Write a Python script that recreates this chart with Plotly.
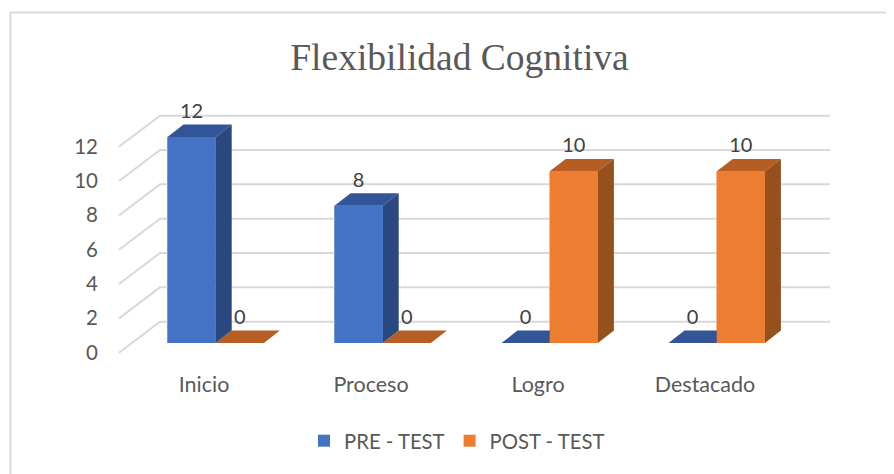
import plotly.graph_objects as go

categories = ["Inicio", "Proceso", "Logro", "Destacado"]
pre_test = [12, 8, 0, 0]
post_test = [0, 0, 10, 10]
y_ticks = [0, 2, 4, 6, 8, 10, 12]

PAGE = 8  # default page margin of the written html
W, H = 894 - PAGE, 474 - PAGE
PX_PER_X, X0_PX = 167.0, 215.7
PX_PER_Y, Y0_PX = 17.17, 343.0
BAR_W = 48.2 / PX_PER_X
DX, DY = 16 / PX_PER_X, 12.4 / PX_PER_Y
LABEL_UP = 24 / PX_PER_Y
BACK_L, BACK_R = (160 - X0_PX) / PX_PER_X, (830 - X0_PX) / PX_PER_X
FRONT_L = (119 - X0_PX) / PX_PER_X
BACK_DY, FRONT_DY = (343 - 321.7) / PX_PER_Y, (343 - 352.7) / PX_PER_Y

x_range = [-(X0_PX - PAGE) / PX_PER_X, (W - (X0_PX - PAGE)) / PX_PER_X]
y_range = [((Y0_PX - PAGE) - H) / PX_PER_Y, (Y0_PX - PAGE) / PX_PER_Y]
TICK_SHIFT = (Y0_PX - 352.5) / PX_PER_Y

BLUE, ORANGE = "#4472C4", "#ED7D31"
BLUE_T, ORANGE_T = "#325597", "#B55D22"
BLUE_S, ORANGE_S = "#2A4880", "#95501C"
GRID = "#D9D9D9"
positions = list(range(len(categories)))

fig = go.Figure()

# legend + real value marks
for name, vals, col, off in [("PRE - TEST", pre_test, BLUE, -BAR_W), ("POST - TEST", post_test, ORANGE, 0)]:
    fig.add_trace(go.Bar(x=[p + off for p in positions], y=vals, width=BAR_W, offset=0, name=name,
                         marker=dict(color=col, line=dict(width=0)), hoverinfo="skip"))

# wall gridlines and side diagonals
for t in y_ticks:
    fig.add_trace(go.Scatter(x=[FRONT_L, BACK_L, BACK_R], y=[t + FRONT_DY, t + BACK_DY, t + BACK_DY],
                             mode="lines", line=dict(color=GRID, width=2), showlegend=False, hoverinfo="skip"))

def poly(xs, ys, col):
    fig.add_trace(go.Scatter(x=xs, y=ys, mode="lines", fill="toself", fillcolor=col,
                             line=dict(width=0, color=col), showlegend=False, hoverinfo="skip"))

series = [(pre_test, -BAR_W, BLUE, BLUE_T, BLUE_S), (post_test, 0, ORANGE, ORANGE_T, ORANGE_S)]
for vals, off, _, top, _s in series:
    for p, v in zip(positions, vals):
        l = p + off
        r = l + BAR_W
        poly([l, r, r + DX, l + DX, l], [v, v, v + DY, v + DY, v], top)
for vals, off, _, _t, side in series:
    for p, v in zip(positions, vals):
        if v:
            r = p + off + BAR_W
            poly([r, r + DX, r + DX, r, r], [0, DY, v + DY, v, 0], side)
for vals, off, front, _t, _s in series:
    for p, v in zip(positions, vals):
        if v:
            l = p + off
            r = l + BAR_W
            poly([l, r, r, l, l], [0, 0, v, v, 0], front)

# value labels
for vals, off in [(pre_test, -BAR_W / 2), (post_test, BAR_W / 2)]:
    fig.add_trace(go.Scatter(x=[p + off for p in positions], y=[v + LABEL_UP for v in vals],
                             mode="text", text=[str(v) for v in vals], textposition="middle center",
                             textfont=dict(family="Lato", size=20, color="#404040"),
                             showlegend=False, hoverinfo="skip"))

# invisible carrier for the labelled value axis
fig.add_trace(go.Scatter(x=[None], y=[None], yaxis="y2", showlegend=False, hoverinfo="skip"))

fig.update_layout(
    width=W, height=H, margin=dict(l=0, r=0, t=0, b=0),
    paper_bgcolor="white", plot_bgcolor="rgba(0,0,0,0)",
    barmode="overlay", showlegend=True,
    title=dict(text="Flexibilidad Cognitiva", x=(459.5 - PAGE) / W, xanchor="center", y=1 - (57 - PAGE) / H, yanchor="middle",
               font=dict(family="Liberation Serif", size=37.5, color="#595959")),
    xaxis=dict(range=x_range, tickmode="array", tickvals=[p - 0.07 for p in positions], ticktext=categories,
               anchor="free", position=1 - 361 / H, showgrid=False, zeroline=False, showline=False, ticks="",
               tickfont=dict(family="Lato", size=21.5, color="#595959")),
    yaxis=dict(range=y_range, domain=[0, 1], visible=False, fixedrange=True),
    yaxis2=dict(range=[r - TICK_SHIFT for r in y_range], overlaying="y", anchor="free", position=(98 - PAGE) / W, side="left",
                tickmode="array", tickvals=y_ticks, showgrid=False, zeroline=False, showline=False, ticks="",
                tickfont=dict(family="Lato", size=20.5, color="#595959")),
    legend=dict(orientation="h", x=(304 - PAGE) / W, xanchor="left", y=1 - (441 - PAGE) / H, yanchor="middle",
                font=dict(family="Lato", size=20.3, color="#595959"), bgcolor="rgba(0,0,0,0)"),
    shapes=[dict(type="rect", xref="paper", yref="paper", x0=(10.5 - PAGE) / W, x1=1.2, y0=-0.2, y1=1 - (12.5 - PAGE) / H,
                 line=dict(color=GRID, width=2), fillcolor="rgba(0,0,0,0)", layer="below")],
)
fig.write_html("out.html")
